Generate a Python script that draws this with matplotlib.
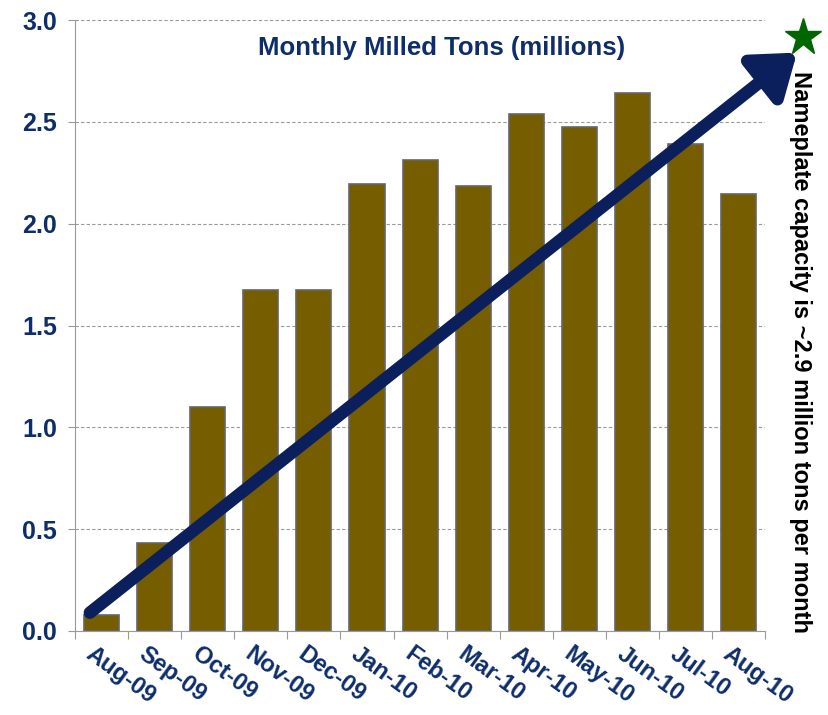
import matplotlib
matplotlib.use("Agg")
import matplotlib.pyplot as plt
from matplotlib import font_manager

meses = ["Aug-09", "Sep-09", "Oct-09", "Nov-09", "Dec-09", "Jan-10", "Feb-10",
         "Mar-10", "Apr-10", "May-10", "Jun-10", "Jul-10", "Aug-10"]
toneladas = [0.08, 0.43, 1.10, 1.675, 1.675, 2.195, 2.315, 2.185, 2.54, 2.475,
             2.64, 2.39, 2.145]
yticks = [0.0, 0.5, 1.0, 1.5, 2.0, 2.5, 3.0]
capacidade = 2.9

nomes = {f.name for f in font_manager.fontManager.ttflist}
fonte_estreita = "Liberation Sans Narrow" if "Liberation Sans Narrow" in nomes else "Liberation Sans"

AZUL = "#0d2d6b"
OLIVA = "#765d00"

fig = plt.figure(figsize=(8.29, 7.15), dpi=100)
ax = fig.add_axes([0.0905, 0.1175, 0.8325, 0.8545])

x = list(range(len(meses)))
ax.bar(x, toneladas, width=0.66, color=OLIVA, edgecolor="#666666", linewidth=1.2, zorder=2)

ax.set_xlim(-0.5, len(meses) - 0.5)
ax.set_ylim(0, 3.0)
ax.set_yticks(yticks)
ax.set_yticklabels([f"{v:.1f}" for v in yticks], fontsize=18, fontweight="bold",
                   color=AZUL, family=fonte_estreita)
ax.yaxis.grid(True, linestyle=(0, (3, 2)), color="#999999", linewidth=0.8, zorder=0)
ax.set_axisbelow(True)

ax.set_xticks([i - 0.5 for i in range(len(meses) + 1)])
ax.set_xticklabels([])
ax.tick_params(axis="x", length=6, color="#999999", direction="out")
ax.tick_params(axis="y", length=5, color="#999999", direction="out", pad=8)
for i, m in enumerate(meses):
    ax.text(i - 0.25, -0.10, m, rotation=-36, rotation_mode="anchor", ha="left", va="center",
            fontsize=17, fontweight="bold", color=AZUL, family=fonte_estreita)

for lado in ["top", "right"]:
    ax.spines[lado].set_visible(False)
ax.spines["left"].set_color("#999999")
ax.spines["bottom"].set_color("#999999")

ax.text(0.531, 0.955, "Monthly Milled Tons (millions)", transform=ax.transAxes, ha="center",
        va="center", fontsize=18.5, fontweight="bold", color=AZUL, family=fonte_estreita)

# seta de tendencia ate a capacidade nominal
ax.annotate("", xy=(13.1, 2.84), xytext=(-0.22, 0.09), annotation_clip=False,
            arrowprops=dict(arrowstyle="-|>,head_length=1.1,head_width=0.8", lw=9,
                            color="#0a1f5c", shrinkA=0, shrinkB=0, mutation_scale=22),
            zorder=3)
ax.plot(13.22, 2.916, marker="*", markersize=28, color="#006600", clip_on=False, zorder=4)

fig.text(0.966, 0.508, f"Nameplate capacity is ~{capacidade} million tons per month",
         rotation=-90, ha="center", va="center", fontsize=17, fontweight="bold",
         color="black", family="Liberation Sans")

fig.savefig("out.png", dpi=100)
